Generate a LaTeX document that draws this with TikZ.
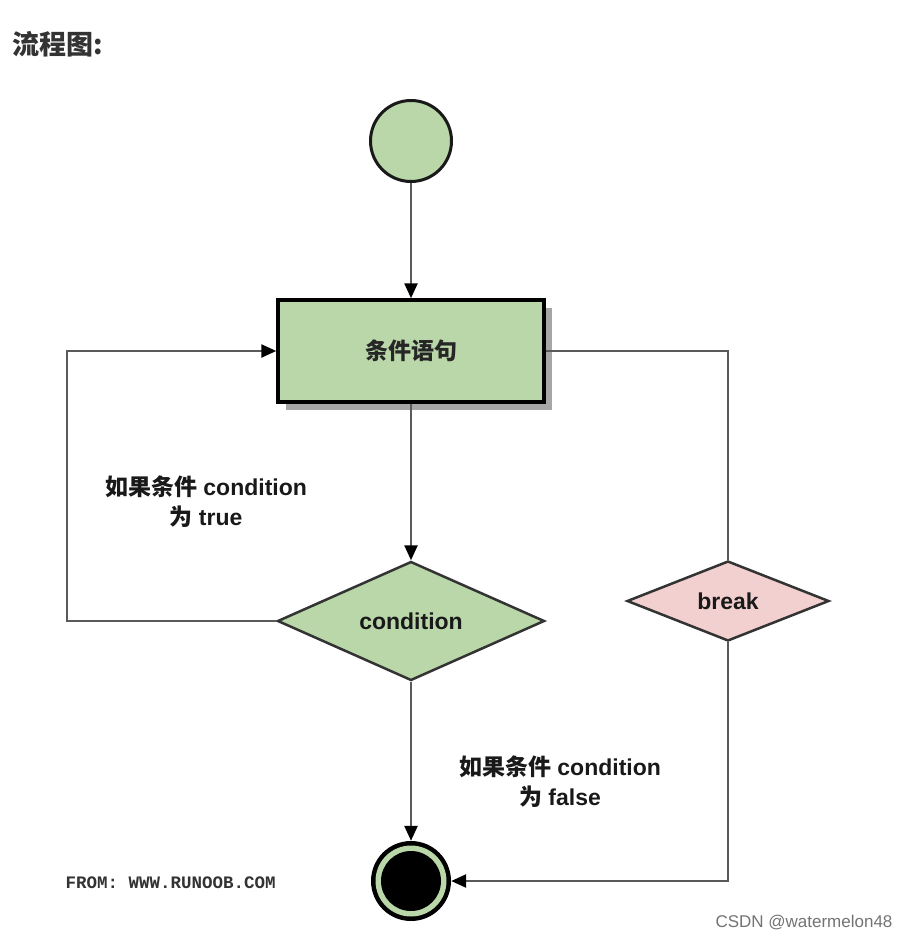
\documentclass[tikz,border=0pt]{standalone}
\usepackage{fontspec}
\setmainfont{Liberation Sans}
\newfontfamily\cjk{Noto Sans CJK SC}
\newfontfamily\monof{Liberation Mono}
\usetikzlibrary{arrows.meta,shapes.geometric,shadows}
\definecolor{gfill}{RGB}{185,215,168}
\definecolor{pfill}{RGB}{242,208,208}
\definecolor{lcol}{RGB}{90,90,90}
\definecolor{dcol}{RGB}{51,51,51}
\begin{document}
\begin{tikzpicture}[x=1pt,y=-1pt,
  conn/.style={draw=lcol,line width=2.5pt},
  arr/.style={conn,-{Triangle[length=15pt,width=13pt,color=black]}},
  lbl/.style={font=\fontsize{23}{30}\selectfont\bfseries,text=black!90,align=center},
  dia/.style={diamond,draw=dcol,line width=2.5pt,inner sep=0pt,font=\fontsize{23}{28}\selectfont\bfseries,text=black!90}
]
\useasboundingbox (0,0) rectangle (908,940);
% title
\node[anchor=west,font=\cjk\fontsize{27}{30}\selectfont\bfseries,text=dcol] (title) at (9,44) {流程图:};
% start
\node[circle,draw=black!90,line width=3pt,fill=gfill,minimum size=81pt,inner sep=0pt] (start) at (411,141) {};
% box
\node[draw=black,line width=3.5pt,fill=gfill,minimum width=266pt,minimum height=102pt,inner sep=0pt,
  drop shadow={shadow xshift=8pt,shadow yshift=-8pt,fill=black!35,opacity=1},
  font=\cjk\fontsize{23}{28}\selectfont\bfseries,text=black!85] (box) at (411,351) {条件语句};
% condition
\node[dia,fill=gfill,minimum width=267pt,minimum height=119pt,shape aspect=2.24] (cond) at (411,621) {condition};
% break
\node[dia,fill=pfill,minimum width=202pt,minimum height=80pt,shape aspect=2.5] (brk) at (728,601) {break};
% end
\node[circle,fill=black,minimum size=80pt,inner sep=0pt] (end) at (411,881) {};
\fill[gfill] (end.center) circle (35.5);
\fill[black] (end.center) circle (30);
% coordinates
\coordinate (lt) at (67,351);
% connectors
\draw[arr] (start) -- (box);
\draw[arr] (box) -- (cond);
\draw[arr] (cond) -- (end);
\draw[arr] (cond.west) -| (lt) -- (box.west);
\draw[conn] (box.east) -| (brk.north);
\draw[arr] (brk.south) |- (end.east);
% labels
\node[lbl] (ltrue) at (206,502) {{\cjk 如果条件} condition\\{\cjk 为} true};
\node[lbl] (lfalse) at (560,782) {{\cjk 如果条件} condition\\{\cjk 为} false};
\node[anchor=west,font=\monof\bfseries\fontsize{17.5}{20}\selectfont,text=dcol] (from) at (62,883) {FROM: WWW.RUNOOB.COM};
\node[anchor=west,font=\fontsize{17}{20}\selectfont,text=black!55] (wm) at (712,923) {CSDN @watermelon48};
\end{tikzpicture}
\end{document}
